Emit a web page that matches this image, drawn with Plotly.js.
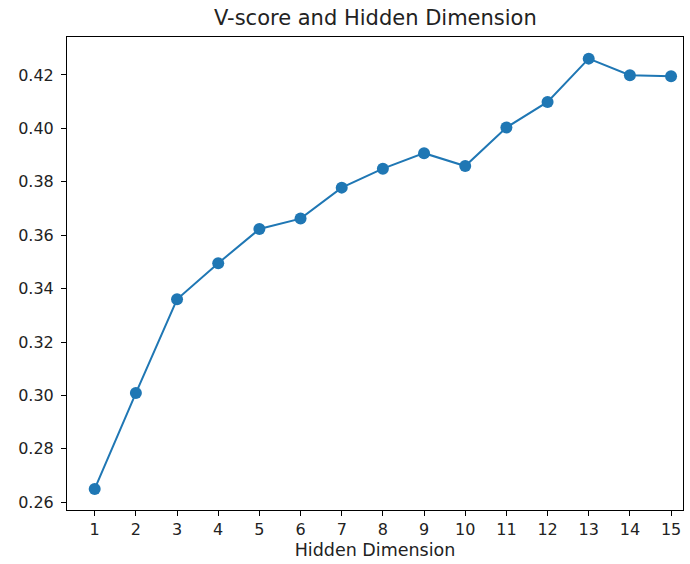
<!DOCTYPE html>
<html>
<head>
<meta charset="utf-8">
<script src="https://cdn.plot.ly/plotly-3.0.1.min.js"></script>
<style>html,body{margin:0;padding:0;background:#fff;}#chart{width:690px;height:564px;}</style>
</head>
<body>
<div id="chart"></div>
<script>
const hiddenDims = [1,2,3,4,5,6,7,8,9,10,11,12,13,14,15];
const vScores = [0.2650,0.3009,0.3360,0.3495,0.3623,0.3662,0.3778,0.3849,0.3907,0.3859,0.4003,0.4099,0.4261,0.4199,0.4195];
const yTicks = [0.26,0.28,0.30,0.32,0.34,0.36,0.38,0.40,0.42];

const trace = {
  x: hiddenDims, y: vScores, type: 'scatter', mode: 'lines+markers',
  line: {color: '#1f77b4', width: 2},
  marker: {color: '#1f77b4', size: 12},
  hoverinfo: 'skip'
};
const axisCommon = {
  showline: true, mirror: true, linecolor: '#000', linewidth: 1,
  ticks: 'outside', ticklen: 5, tickwidth: 1, tickcolor: '#000',
  showgrid: false, zeroline: false,
  tickfont: {family: 'DejaVu Sans', size: 16, color: '#222'}
};
const layout = {
  width: 690, height: 564,
  margin: {l: 67, r: 7, t: 37, b: 54},
  paper_bgcolor: '#fff', plot_bgcolor: '#fff',
  showlegend: false,
  title: {text: 'V-score and Hidden Dimension', font: {family: 'DejaVu Sans', size: 21, color: '#222'},
          x: 0.5440, xanchor: 'center', y: 0.968, yanchor: 'middle'},
  xaxis: Object.assign({}, axisCommon, {
    range: [0.327, 15.29], tickvals: hiddenDims, ticktext: hiddenDims.map(String),
    title: {text: 'Hidden Dimension', font: {family: 'DejaVu Sans', size: 17.5, color: '#222'}, standoff: 5}
  }),
  yaxis: Object.assign({}, axisCommon, {
    range: [0.2571, 0.4342], tickvals: yTicks, ticktext: yTicks.map(v => v.toFixed(2)),
    ticklabelstandoff: 4
  })
};
Plotly.newPlot('chart', [trace], layout, {displayModeBar: false, staticPlot: true});
</script>
</body>
</html>
